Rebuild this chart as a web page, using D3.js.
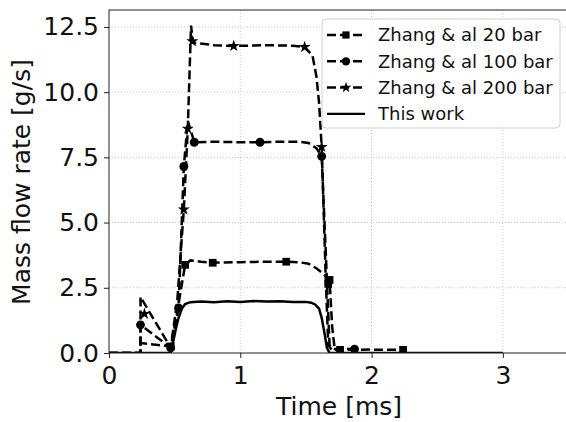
<!DOCTYPE html>
<html>
<script type="text/javascript" src="https://d3js.org/d3.v7.min.js"></script>
<style>
  * {
    font-family: "DejaVu Sans", sans-serif;
  }
  body { margin: 0; background: white; }
  .grid line { stroke: #b8b8b8; stroke-width: 0.8; stroke-dasharray: 1,2; }
  .series { fill: none; stroke: black; stroke-width: 2.5; }
</style>
<body>
<svg width="566" height="422"></svg>
<script>
// time [ms] and mass flow rate [g/s]
var tWork = [0, 0.47, 0.49, 0.51, 0.53, 0.555, 0.58, 0.62, 0.70, 0.80, 0.90, 1.00, 1.10, 1.20, 1.30, 1.40, 1.50, 1.54, 1.57, 1.60, 1.62, 1.64, 1.66, 1.68, 2.00, 3.00]
var vWork = [0, 0, 0.45, 0.95, 1.35, 1.70, 1.88, 1.95, 1.97, 1.95, 1.98, 1.96, 1.99, 1.97, 1.98, 1.96, 1.96, 1.93, 1.86, 1.70, 1.35, 0.80, 0.20, 0, 0, 0]

var t20 = [0, 0.24, 0.24, 0.47, 0.52, 0.58, 0.62, 0.70, 0.79, 1.00, 1.20, 1.35, 1.45, 1.52, 1.58, 1.63, 1.68, 1.70, 1.72, 1.76, 2.00, 2.24]
var v20 = [0, 0, 0.38, 0.25, 1.60, 3.38, 3.55, 3.50, 3.46, 3.48, 3.50, 3.50, 3.48, 3.42, 3.25, 3.05, 2.80, 1.00, 0.12, 0.12, 0.13, 0.12]
var m20t = [0.47, 0.58, 0.79, 1.35, 1.67, 1.68, 1.76, 2.24]
var m20v = [0.25, 3.38, 3.46, 3.50, 2.65, 2.80, 0.12, 0.12]

var t100 = [0, 0.24, 0.24, 0.47, 0.53, 0.57, 0.60, 0.65, 0.80, 1.00, 1.15, 1.30, 1.45, 1.52, 1.58, 1.62, 1.65, 1.68, 1.72, 1.87]
var v100 = [0, 0, 1.08, 0.20, 1.73, 7.15, 8.90, 8.08, 8.10, 8.08, 8.08, 8.10, 8.10, 8.05, 7.85, 7.54, 4.00, 0.30, 0.15, 0.15]
var m100t = [0.24, 0.47, 0.53, 0.57, 0.65, 1.15, 1.62, 1.87]
var m100v = [1.08, 0.20, 1.73, 7.15, 8.08, 8.08, 7.54, 0.15]

var t200 = [0, 0.24, 0.24, 0.47, 0.52, 0.57, 0.60, 0.625, 0.64, 0.80, 0.95, 1.20, 1.40, 1.49, 1.55, 1.58, 1.60, 1.62, 1.65, 1.67, 1.70]
var v200 = [0, 0, 2.15, 0.20, 2.00, 5.50, 8.60, 12.55, 11.90, 11.80, 11.77, 11.80, 11.78, 11.73, 11.40, 10.60, 9.60, 7.90, 3.00, 0.30, 0.10]
var m200t = [0.27, 0.57, 0.60, 0.635, 0.95, 1.49, 1.62]
var m200v = [1.50, 5.50, 8.60, 11.95, 11.77, 11.73, 7.90]

var xTicks = [0, 1, 2, 3]
var yTicks = [0, 2.5, 5, 7.5, 10, 12.5]
var legendLabels = ["Zhang & al 20 bar", "Zhang & al 100 bar", "Zhang & al 200 bar", "This work"]

var svg = d3.select("svg")
var pLeft = 109, pRight = 568.5, pTop = 10, pBottom = 353
var xs = d3.scaleLinear().domain([0, 3.5]).range([pLeft, pRight])
var ys = d3.scaleLinear().domain([0, 13.15]).range([pBottom, pTop])

svg.append("defs").append("clipPath").attr("id", "clip")
  .append("rect").attr("x", pLeft).attr("y", pTop)
  .attr("width", pRight - pLeft).attr("height", pBottom - pTop)

// grid
svg.append("g").attr("class", "grid")
  .selectAll("line").data(xTicks.slice(1)).enter().append("line")
  .attr("x1", d => xs(d)).attr("x2", d => xs(d))
  .attr("y1", pTop).attr("y2", pBottom)
svg.append("g").attr("class", "grid")
  .selectAll("line").data(yTicks.slice(1)).enter().append("line")
  .attr("x1", pLeft).attr("x2", pRight)
  .attr("y1", d => ys(d)).attr("y2", d => ys(d))

var line = d3.line().x(d => xs(d[0])).y(d => ys(d[1]))
var zip = (a, b) => a.map((t, i) => [t, b[i]])

var plot = svg.append("g").attr("clip-path", "url(#clip)")
var dashed = [
  {t: t20, v: v20, mt: m20t, mv: m20v, sym: d3.symbolSquare, size: 60},
  {t: t100, v: v100, mt: m100t, mv: m100v, sym: d3.symbolCircle, size: 62},
  {t: t200, v: v200, mt: m200t, mv: m200v, sym: d3.symbolStar, size: 45}
]
dashed.forEach(function(s) {
  plot.append("path").attr("class", "series")
    .attr("stroke-dasharray", "9,4")
    .attr("d", line(zip(s.t, s.v)))
  plot.selectAll(null).data(zip(s.mt, s.mv)).enter().append("path")
    .attr("transform", d => "translate(" + xs(d[0]) + "," + ys(d[1]) + ")")
    .attr("d", d3.symbol().type(s.sym).size(s.size))
    .attr("fill", "black")
})
plot.append("path").attr("class", "series")
  .attr("stroke-width", 2.2)
  .attr("d", line(zip(tWork, vWork)))

// frame
svg.append("rect").attr("x", pLeft).attr("y", pTop)
  .attr("width", pRight - pLeft).attr("height", pBottom - pTop)
  .attr("fill", "none").attr("stroke", "#222").attr("stroke-width", 1)

// axes
var xa = svg.append("g").attr("transform", "translate(0," + pBottom + ")")
  .call(d3.axisBottom(xs).tickValues(xTicks).tickFormat(d3.format("d")).tickSize(5).tickPadding(8))
var ya = svg.append("g").attr("transform", "translate(" + pLeft + ",0)")
  .call(d3.axisLeft(ys).tickValues(yTicks).tickFormat(d3.format(".1f")).tickSize(5).tickPadding(5))
;[xa, ya].forEach(function(a) {
  a.select(".domain").remove()
  a.selectAll("text").attr("font-size", 25).attr("fill", "#111").style("font-family", "DejaVu Sans")
  a.selectAll("line").attr("stroke", "#222")
})

svg.append("text")
  .attr("transform", "translate(339,415)")
  .attr("text-anchor", "middle").attr("font-size", 25).attr("fill", "#111")
  .text("Time [ms]")
svg.append("text")
  .attr("transform", "translate(30,182)rotate(-90)")
  .attr("text-anchor", "middle").attr("font-size", 25).attr("fill", "#111")
  .text("Mass flow rate [g/s]")

// legend
var lg = svg.append("g")
lg.append("rect").attr("x", 322).attr("y", 19).attr("width", 238).attr("height", 109)
  .attr("rx", 4).attr("fill", "white").attr("fill-opacity", 0.85)
  .attr("stroke", "#d0d0d0").attr("stroke-width", 1)
legendLabels.forEach(function(name, i) {
  var y = 35 + i * 26.3
  var g = lg.append("g")
  g.append("line").attr("x1", 327).attr("x2", 365).attr("y1", y).attr("y2", y)
    .attr("stroke", "black").attr("stroke-width", i < 3 ? 2.5 : 2.2)
    .attr("stroke-dasharray", i < 3 ? "9,4" : null)
  if (i < 3) {
    g.append("path").attr("transform", "translate(346," + y + ")")
      .attr("d", d3.symbol().type(dashed[i].sym).size(dashed[i].size - 8))
      .attr("fill", "black")
  }
  g.append("text").attr("x", 378).attr("y", y).attr("dy", "0.36em")
    .attr("font-size", 18).attr("fill", "#111").text(name)
})
</script>
</body>
</html>
